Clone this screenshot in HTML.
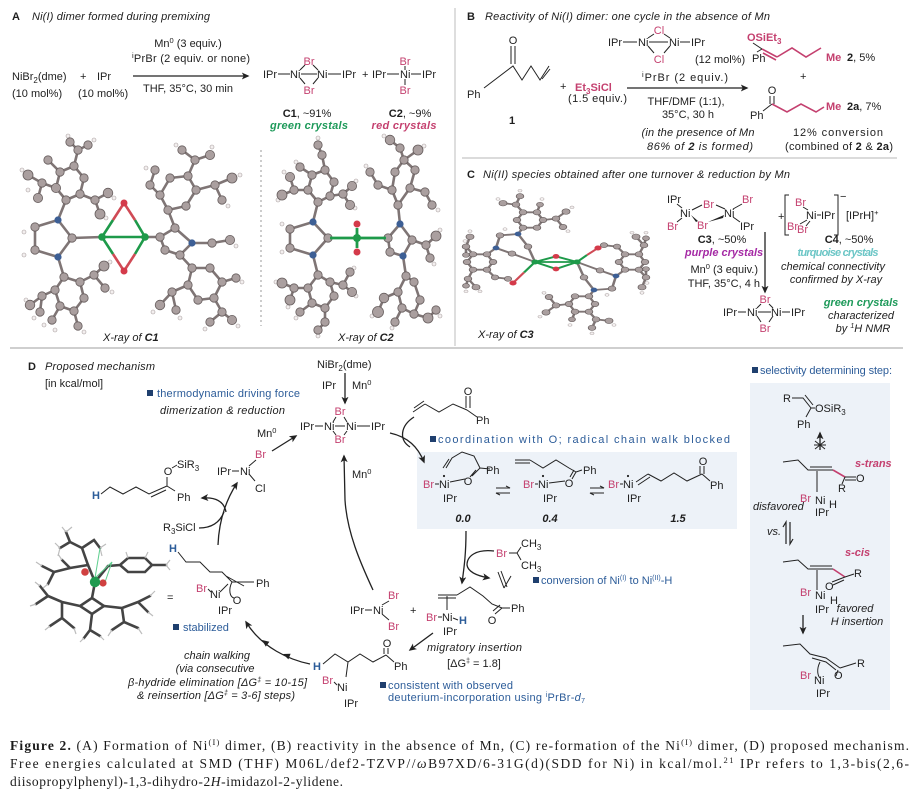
<!DOCTYPE html>
<html><head><meta charset="utf-8">
<style>
html,body{margin:0;padding:0;background:#fff;}
svg{display:block}
text{font-family:"Liberation Sans",sans-serif;font-size:11px;fill:#1e1e1e}
.i{font-style:italic}
.b{font-weight:bold}
.pk{fill:#c4406f}
.bl{fill:#2c5c99}
.gr{fill:#1e9a5a}
.cap{font-family:"Liberation Serif",serif;font-size:13.5px;fill:#1a1a1a}
.bd{stroke:#222;stroke-width:1;fill:none}
.pb{stroke:#c4406f;stroke-width:1.6;fill:none}
.ar{stroke:#222;stroke-width:1.3;fill:none}
.ob{stroke:#7f7575;stroke-width:2.6;fill:none;stroke-linecap:round;stroke-linejoin:round}
.oa circle{fill:#aa9f9f;stroke:#665d5d;stroke-width:.8}
.oh circle{fill:#f3efef;stroke:#a9a0a0;stroke-width:.6}
.sb{stroke:#444;stroke-width:2.6;fill:none;stroke-linecap:round}
</style></head><body>
<svg width="922" height="800" viewBox="0 0 922 800" xmlns="http://www.w3.org/2000/svg">
<defs>
<marker id="ah" viewBox="0 0 10 10" refX="8" refY="5" markerWidth="6" markerHeight="6" orient="auto"><path d="M0,0.5 L10,5 L0,9.5 L2.5,5 z" fill="#222"/></marker>
</defs>
<rect width="922" height="800" fill="#fff"/>

<!-- separators -->
<line x1="455" y1="8" x2="455" y2="346" stroke="#d4d4d4" stroke-width="1.5"/>
<line x1="10" y1="348" x2="903" y2="348" stroke="#cfcfcf" stroke-width="2"/>
<line x1="462" y1="158" x2="897" y2="158" stroke="#cfcfcf" stroke-width="1.5"/>
<line x1="261" y1="150" x2="261" y2="326" stroke="#9a9a9a" stroke-width="1" stroke-dasharray="2,3"/>

<!-- ================= PANEL A ================= -->
<text x="12" y="20" class="b" font-size="12">A</text>
<text x="32" y="20" class="i" textLength="178">Ni(I) dimer formed during premixing</text>
<text x="188" y="47" text-anchor="middle">Mn<tspan dy="-4" font-size="7.5">0</tspan><tspan dy="4"> (3 equiv.)</tspan></text>
<text x="132" y="62" textLength="118"><tspan dy="-4" font-size="7.5">i</tspan><tspan dy="4">PrBr (2 equiv. or none)</tspan></text>
<line x1="133" y1="76" x2="248" y2="76" class="ar" marker-end="url(#ah)"/>
<text x="143" y="92" textLength="90">THF, 35°C, 30 min</text>
<text x="12" y="80">NiBr<tspan font-size="8" dy="3">2</tspan><tspan dy="-3">(dme)</tspan></text>
<text x="80" y="80">+</text>
<text x="97" y="80">IPr</text>
<text x="12" y="97">(10 mol%)</text>
<text x="78" y="97">(10 mol%)</text>
<!-- C1 -->
<text x="263" y="78">IPr</text>
<line x1="278" y1="74" x2="290" y2="74" class="bd"/>
<text x="290" y="78">Ni</text>
<line x1="301" y1="74" x2="317" y2="74" class="bd"/>
<text x="317" y="78">Ni</text>
<line x1="328" y1="74" x2="341" y2="74" class="bd"/>
<text x="342" y="78">IPr</text>
<text x="309" y="65" text-anchor="middle" class="pk">Br</text>
<text x="309" y="94" text-anchor="middle" class="pk">Br</text>
<path d="M300,70 L305,65 M313,65 L318,70 M300,78 L305,84 M313,84 L318,78" class="bd"/>
<text x="362" y="78">+</text>
<!-- C2 -->
<text x="372" y="78">IPr</text>
<line x1="387" y1="74" x2="399" y2="74" class="bd"/>
<text x="400" y="78">Ni</text>
<line x1="411" y1="74" x2="421" y2="74" class="bd"/>
<text x="422" y="78">IPr</text>
<text x="405" y="65" text-anchor="middle" class="pk">Br</text>
<text x="405" y="94" text-anchor="middle" class="pk">Br</text>
<path d="M405,66 L405,70 M405,79 L405,85" class="bd"/>
<text x="307" y="117" text-anchor="middle"><tspan class="b">C1</tspan>, ~91%</text>
<text x="309" y="129" text-anchor="middle" class="b i gr" textLength="78">green crystals</text>
<text x="410" y="117" text-anchor="middle"><tspan class="b">C2</tspan>, ~9%</text>
<text x="404" y="129" text-anchor="middle" class="b i pk" textLength="65">red crystals</text>

<!-- C1 crystal -->
<g class="ob">
<path d="M72,238 L58,220 L35,227 L35,250 L58,257 Z M72,238 L102,237"/>
<path d="M58,220 L66,200 L56,188 L60,172 L74,166 L84,178 L80,194 L66,200 M56,188 L42,183 L28,175 M42,183 L38,198 M80,194 L95,200 L108,193 M95,200 L100,214 M74,166 L78,150 L70,142 M78,150 L88,145 M60,172 L48,160"/>
<path d="M58,257 L64,277 L55,290 L60,306 L74,311 L84,298 L80,282 L64,277 M55,290 L42,296 L30,305 M42,296 L40,312 M80,282 L94,275 L104,266 M94,275 L105,288 M74,311 L78,326 M60,306 L52,320"/>
<path d="M145,237 L160,237 L175,228 L192,243 L180,255 L165,250 L160,237 M175,228 L168,210 L160,195 L170,178 L188,176 L196,190 L186,206 L168,210 M160,195 L150,185 L155,170 M188,176 L195,160 L210,155 M195,160 L182,150 M196,190 L215,185 L232,178 M215,185 L222,200 M192,243 L212,243 L230,240 M180,255 L192,268 L188,285 L198,300 L214,298 L222,282 L210,268 L192,268 M188,285 L172,292 L160,305 M172,292 L176,310 M214,298 L222,312 L232,320 M222,312 L210,322 M222,282 L236,278"/>
</g>
<g class="oh">
<circle cx="22" cy="170" r="2"/><circle cx="28" cy="190" r="2"/><circle cx="24" cy="232" r="2"/><circle cx="24" cy="255" r="2"/><circle cx="26" cy="300" r="2"/><circle cx="44" cy="325" r="2"/><circle cx="68" cy="136" r="2"/><circle cx="94" cy="140" r="2"/><circle cx="114" cy="198" r="2"/><circle cx="110" cy="262" r="2"/><circle cx="146" cy="168" r="2"/><circle cx="212" cy="147" r="2"/><circle cx="240" cy="175" r="2"/><circle cx="228" cy="206" r="2"/><circle cx="236" cy="246" r="2"/><circle cx="242" cy="282" r="2"/><circle cx="238" cy="326" r="2"/><circle cx="205" cy="329" r="2"/><circle cx="180" cy="318" r="2"/><circle cx="153" cy="312" r="2"/><circle cx="55" cy="330" r="2"/><circle cx="84" cy="332" r="2"/><circle cx="34" cy="318" r="2"/><circle cx="112" cy="292" r="2"/><circle cx="176" cy="145" r="2"/><circle cx="106" cy="218" r="2"/>
</g>
<g class="oa">
<circle cx="35" cy="227" r="4.2"/><circle cx="35" cy="250" r="4.2"/><circle cx="72" cy="238" r="4.2"/><circle cx="66" cy="200" r="4.2"/><circle cx="56" cy="188" r="4.6"/><circle cx="60" cy="172" r="4.2"/><circle cx="74" cy="166" r="4.2"/><circle cx="84" cy="178" r="4.2"/><circle cx="80" cy="194" r="4.2"/><circle cx="42" cy="183" r="4.2"/><circle cx="28" cy="175" r="5"/><circle cx="38" cy="198" r="4.6"/><circle cx="95" cy="200" r="4.2"/><circle cx="108" cy="193" r="4.8"/><circle cx="100" cy="214" r="5"/><circle cx="78" cy="150" r="4.2"/><circle cx="70" cy="142" r="4.2"/><circle cx="88" cy="145" r="4.2"/><circle cx="48" cy="160" r="4.2"/>
<circle cx="64" cy="277" r="4.2"/><circle cx="55" cy="290" r="4.2"/><circle cx="60" cy="306" r="4.2"/><circle cx="74" cy="311" r="4.2"/><circle cx="84" cy="298" r="4.2"/><circle cx="80" cy="282" r="4.2"/><circle cx="42" cy="296" r="4.2"/><circle cx="30" cy="305" r="4.8"/><circle cx="40" cy="312" r="4.2"/><circle cx="94" cy="275" r="4.2"/><circle cx="104" cy="266" r="5"/><circle cx="105" cy="288" r="4.2"/><circle cx="78" cy="326" r="4.2"/><circle cx="52" cy="320" r="4.2"/>
<circle cx="160" cy="237" r="4.2"/><circle cx="175" cy="228" r="4.2"/><circle cx="180" cy="255" r="4.2"/><circle cx="165" cy="250" r="4.2"/><circle cx="168" cy="210" r="4.2"/><circle cx="160" cy="195" r="4.2"/><circle cx="170" cy="178" r="4.2"/><circle cx="188" cy="176" r="4.2"/><circle cx="196" cy="190" r="4.2"/><circle cx="186" cy="206" r="4.2"/><circle cx="150" cy="185" r="4.2"/><circle cx="155" cy="170" r="4.2"/><circle cx="195" cy="160" r="4.2"/><circle cx="210" cy="155" r="4.6"/><circle cx="182" cy="150" r="4.2"/><circle cx="215" cy="185" r="4.2"/><circle cx="232" cy="178" r="5"/><circle cx="222" cy="200" r="4.2"/><circle cx="212" cy="243" r="4.2"/><circle cx="230" cy="240" r="4.6"/><circle cx="192" cy="268" r="4.2"/><circle cx="188" cy="285" r="4.2"/><circle cx="198" cy="300" r="4.2"/><circle cx="214" cy="298" r="4.2"/><circle cx="222" cy="282" r="4.2"/><circle cx="210" cy="268" r="4.2"/><circle cx="172" cy="292" r="4.2"/><circle cx="160" cy="305" r="4.8"/><circle cx="176" cy="310" r="4.2"/><circle cx="222" cy="312" r="4.2"/><circle cx="232" cy="320" r="4.6"/><circle cx="210" cy="322" r="4.2"/><circle cx="236" cy="278" r="4.2"/>
</g>
<circle cx="58" cy="220" r="3.6" fill="#3d5f95"/><circle cx="58" cy="257" r="3.6" fill="#3d5f95"/><circle cx="192" cy="243" r="3.6" fill="#3d5f95"/>
<g stroke-width="2.6" fill="none">
<path d="M102,237 L145,237" stroke="#1e9a4a"/>
<path d="M102,237 L113,220 M102,237 L113,254 M145,237 L135,220 M145,237 L135,254" stroke="#1e9a4a"/>
<path d="M113,220 L124,203 L135,220 M113,254 L124,271 L135,254" stroke="#d04a55"/>
</g>
<circle cx="102" cy="237" r="3.8" fill="#1e9a4a"/><circle cx="145" cy="237" r="3.8" fill="#1e9a4a"/>
<circle cx="124" cy="203" r="3.5" fill="#d43a4a"/><circle cx="124" cy="271" r="3.5" fill="#d43a4a"/>
<text x="103" y="341" class="i">X-ray of <tspan class="b">C1</tspan></text>

<!-- C2 crystal -->
<g class="ob">
<path d="M328,238 L313,222 L290,229 L290,248 L313,255 Z"/>
<path d="M313,222 L318,202 L308,190 L312,175 L325,170 L334,182 L330,196 L318,202 M308,190 L294,190 L282,195 M294,190 L290,177 M330,196 L343,194 L352,186 M343,194 L350,205 M325,170 L322,155 L318,145 M312,175 L300,167"/>
<path d="M313,255 L318,275 L308,288 L312,303 L325,308 L334,296 L330,282 L318,275 M308,288 L294,288 L282,283 M294,288 L290,300 M330,282 L343,285 L352,292 M343,285 L350,272 M325,308 L325,322 L318,330 M312,303 L300,312"/>
<path d="M388,238 L400,224 L412,240 L403,256 L390,252 L388,238 M400,224 L398,205 L392,190 L395,172 L404,160 L415,170 L410,188 L398,205 M404,160 L400,148 L390,140 M404,160 L418,150 M392,190 L378,185 L370,172 M410,188 L425,192 L432,205 M412,240 L426,245 L436,236 M426,245 L430,258 M403,256 L406,276 L398,292 L402,308 L414,314 L420,300 L414,282 L406,276 M398,292 L384,298 L378,312 M402,308 L395,322 M414,314 L428,318 L436,310"/>
</g>
<g class="oh">
<circle cx="278" cy="200" r="2"/><circle cx="284" cy="172" r="2"/><circle cx="318" cy="138" r="2"/><circle cx="296" cy="162" r="2"/><circle cx="356" cy="181" r="2"/><circle cx="355" cy="208" r="2"/><circle cx="282" cy="224" r="2"/><circle cx="282" cy="252" r="2"/><circle cx="276" cy="282" r="2"/><circle cx="288" cy="307" r="2"/><circle cx="296" cy="318" r="2"/><circle cx="318" cy="336" r="2"/><circle cx="356" cy="296" r="2"/><circle cx="354" cy="268" r="2"/><circle cx="384" cy="136" r="2"/><circle cx="424" cy="146" r="2"/><circle cx="366" cy="166" r="2"/><circle cx="438" cy="210" r="2"/><circle cx="440" cy="230" r="2"/><circle cx="434" cy="264" r="2"/><circle cx="372" cy="316" r="2"/><circle cx="392" cy="328" r="2"/><circle cx="440" cy="316" r="2"/>
</g>
<g class="oa">
<circle cx="290" cy="229" r="4.2"/><circle cx="290" cy="248" r="4.2"/><circle cx="328" cy="238" r="4.2"/><circle cx="318" cy="202" r="4.2"/><circle cx="308" cy="190" r="4.2"/><circle cx="312" cy="175" r="4.2"/><circle cx="325" cy="170" r="4.2"/><circle cx="334" cy="182" r="4.2"/><circle cx="330" cy="196" r="4.2"/><circle cx="294" cy="190" r="4.2"/><circle cx="282" cy="195" r="5"/><circle cx="290" cy="177" r="4.6"/><circle cx="343" cy="194" r="4.2"/><circle cx="352" cy="186" r="4.6"/><circle cx="350" cy="205" r="4.6"/><circle cx="322" cy="155" r="4.2"/><circle cx="318" cy="145" r="4.2"/><circle cx="300" cy="167" r="4.2"/>
<circle cx="318" cy="275" r="4.2"/><circle cx="308" cy="288" r="4.2"/><circle cx="312" cy="303" r="4.2"/><circle cx="325" cy="308" r="4.2"/><circle cx="334" cy="296" r="4.2"/><circle cx="330" cy="282" r="4.2"/><circle cx="294" cy="288" r="4.2"/><circle cx="282" cy="283" r="5"/><circle cx="290" cy="300" r="5"/><circle cx="343" cy="285" r="4.2"/><circle cx="352" cy="292" r="4.6"/><circle cx="350" cy="272" r="4.2"/><circle cx="325" cy="322" r="4.2"/><circle cx="318" cy="330" r="4.2"/><circle cx="300" cy="312" r="4.2"/>
<circle cx="388" cy="238" r="4.2"/><circle cx="412" cy="240" r="4.2"/><circle cx="390" cy="252" r="4.2"/><circle cx="398" cy="205" r="4.2"/><circle cx="392" cy="190" r="4.2"/><circle cx="395" cy="172" r="4.2"/><circle cx="404" cy="160" r="4.2"/><circle cx="415" cy="170" r="4.2"/><circle cx="410" cy="188" r="4.2"/><circle cx="400" cy="148" r="4.2"/><circle cx="390" cy="140" r="4.8"/><circle cx="418" cy="150" r="5"/><circle cx="378" cy="185" r="4.2"/><circle cx="370" cy="172" r="4.2"/><circle cx="425" cy="192" r="4.2"/><circle cx="432" cy="205" r="4.2"/><circle cx="426" cy="245" r="4.2"/><circle cx="436" cy="236" r="5"/><circle cx="430" cy="258" r="4.2"/><circle cx="406" cy="276" r="4.2"/><circle cx="398" cy="292" r="4.2"/><circle cx="402" cy="308" r="4.2"/><circle cx="414" cy="314" r="4.2"/><circle cx="420" cy="300" r="4.2"/><circle cx="414" cy="282" r="4.2"/><circle cx="384" cy="298" r="4.8"/><circle cx="378" cy="312" r="5.5"/><circle cx="395" cy="322" r="4.2"/><circle cx="428" cy="318" r="5"/><circle cx="436" cy="310" r="4.2"/>
</g>
<circle cx="313" cy="222" r="3.6" fill="#3d5f95"/><circle cx="313" cy="255" r="3.6" fill="#3d5f95"/><circle cx="400" cy="224" r="3.6" fill="#3d5f95"/><circle cx="403" cy="256" r="3.6" fill="#3d5f95"/>
<path d="M330,238 L386,238 M357,238 L357,228 M357,238 L357,248" stroke="#1e9a4a" stroke-width="2.8"/>
<circle cx="357" cy="238" r="4" fill="#1e9a4a"/>
<circle cx="357" cy="224" r="3.5" fill="#d43a4a"/><circle cx="357" cy="252" r="3.5" fill="#d43a4a"/>
<text x="338" y="341" class="i">X-ray of <tspan class="b">C2</tspan></text>

<!-- ================= PANEL B ================= -->
<text x="467" y="20" class="b" font-size="12">B</text>
<text x="485" y="20" class="i" textLength="285">Reactivity of Ni(I) dimer: one cycle in the absence of Mn</text>
<!-- Cl dimer -->
<text x="608" y="46">IPr</text>
<line x1="623" y1="42" x2="637" y2="42" class="bd"/>
<text x="638" y="46">Ni</text>
<line x1="649" y1="42" x2="668" y2="42" class="bd"/>
<text x="669" y="46">Ni</text>
<line x1="680" y1="42" x2="690" y2="42" class="bd"/>
<text x="691" y="46">IPr</text>
<text x="659" y="34" text-anchor="middle" class="pk">Cl</text>
<text x="659" y="63" text-anchor="middle" class="pk">Cl</text>
<path d="M648,38 L654,34 M664,34 L670,38 M648,46 L654,53 M664,53 L670,46" class="bd"/>
<text x="695" y="63">(12 mol%)</text>
<text x="642" y="81" textLength="86"><tspan dy="-4" font-size="7.5">i</tspan><tspan dy="4">PrBr (2 equiv.)</tspan></text>
<line x1="627" y1="88" x2="747" y2="88" class="ar" marker-end="url(#ah)"/>
<text x="686" y="105" text-anchor="middle">THF/DMF (1:1),</text>
<text x="688" y="118" text-anchor="middle">35°C, 30 h</text>
<text x="698" y="136" text-anchor="middle" class="i" textLength="113">(in the presence of Mn</text>
<text x="700" y="150" text-anchor="middle" class="i" textLength="106">86% of <tspan class="b">2</tspan> is formed)</text>
<!-- ketone 1 -->
<text x="467" y="98">Ph</text>
<path d="M484,88 L513,66 L522,80 L531,66 L540,80 L549,66 M542,79 L550,69 M511,64 L511,46 M515,64 L515,46" class="bd"/>
<text x="513" y="44" text-anchor="middle">O</text>
<text x="512" y="124" text-anchor="middle" class="b">1</text>
<text x="560" y="90">+</text>
<text x="575" y="91" class="pk b">Et<tspan font-size="8" dy="3">3</tspan><tspan dy="-3">SiCl</tspan></text>
<text x="568" y="102" textLength="59">(1.5 equiv.)</text>
<!-- product 2 -->
<text x="747" y="41" class="pk b">OSiEt<tspan font-size="8" dy="3">3</tspan></text>
<path d="M753,43 L762,49" class="bd"/>
<path d="M762,49 L757,52" class="bd"/>
<text x="752" y="62">Ph</text>
<path d="M762,49 L777,57 M763,53 L776,60 M777,57 L792,48 L806,57 L821,48" class="pb"/>
<text x="826" y="61" class="pk b">Me</text>
<text x="847" y="61"><tspan class="b">2</tspan>, 5%</text>
<text x="800" y="80">+</text>
<!-- product 2a -->
<text x="772" y="94" text-anchor="middle">O</text>
<path d="M770,96 L770,104 M774,96 L774,104 M772,104 L763,111" class="bd"/>
<text x="750" y="119">Ph</text>
<path d="M772,104 L787,112 L801,104 L816,112 L824,107" class="pb"/>
<text x="826" y="110" class="pk b">Me</text>
<text x="847" y="110"><tspan class="b">2a</tspan>, 7%</text>
<text x="838" y="136" text-anchor="middle" textLength="90">12% conversion</text>
<text x="839" y="150" text-anchor="middle" textLength="108">(combined of <tspan class="b">2</tspan> &amp; <tspan class="b">2a</tspan>)</text>

<!-- ================= PANEL C ================= -->
<text x="467" y="178" class="b" font-size="12">C</text>
<text x="483" y="178" class="i" textLength="307">Ni(II) species obtained after one turnover &amp; reduction by Mn</text>
<!-- C3 crystal -->
<g transform="matrix(1,0,0,0.7,0,78.6)">
<g id="c3l">
<g class="ob">
<path d="M535,262 L528,240 L518,222 L500,224 L496,242 L512,250 Z"/>
<path d="M518,222 L523,213 L517,202 L523,191 L537,191 L543,202 L537,213 L523,213 M523,191 L516,180 L503,178 M516,180 L520,168 M543,202 L556,200 L566,190 M556,200 L563,212 M537,191 L540,180"/>
<path d="M496,242 L487,251 L473,251 L467,262 L473,273 L487,273 L493,262 L487,251 M473,251 L466,240 L470,226 M466,240 L466,252 M473,273 L468,286 L476,298 M468,286 L466,296 M487,273 L495,284 L508,286"/>
</g>
<g class="oh"><circle cx="498" cy="172" r="2"/><circle cx="520" cy="160" r="2"/><circle cx="572" cy="184" r="2"/><circle cx="568" cy="218" r="2"/><circle cx="470" cy="218" r="2"/><circle cx="465" cy="232" r="2"/><circle cx="480" cy="304" r="2"/><circle cx="466" cy="304" r="2"/><circle cx="542" cy="172" r="2"/><circle cx="505" cy="215" r="2"/></g>
<g class="oa"><circle cx="528" cy="240" r="3.8"/><circle cx="500" cy="224" r="3.8"/><circle cx="512" cy="250" r="3.8"/><circle cx="523" cy="213" r="3.8"/><circle cx="517" cy="202" r="3.8"/><circle cx="523" cy="191" r="3.8"/><circle cx="537" cy="191" r="3.8"/><circle cx="543" cy="202" r="3.8"/><circle cx="537" cy="213" r="3.8"/><circle cx="516" cy="180" r="3.8"/><circle cx="503" cy="178" r="4"/><circle cx="520" cy="168" r="3.8"/><circle cx="556" cy="200" r="3.8"/><circle cx="566" cy="190" r="4"/><circle cx="563" cy="212" r="3.8"/><circle cx="540" cy="180" r="3.4"/><circle cx="487" cy="251" r="3.8"/><circle cx="473" cy="251" r="3.8"/><circle cx="467" cy="262" r="3.8"/><circle cx="473" cy="273" r="3.8"/><circle cx="487" cy="273" r="3.8"/><circle cx="493" cy="262" r="3.8"/><circle cx="466" cy="240" r="3.8"/><circle cx="470" cy="226" r="4"/><circle cx="466" cy="252" r="3.4"/><circle cx="468" cy="286" r="3.8"/><circle cx="476" cy="298" r="4"/><circle cx="466" cy="296" r="3.4"/><circle cx="495" cy="284" r="3.6"/><circle cx="508" cy="286" r="3.6"/></g>
<circle cx="518" cy="222" r="3.4" fill="#3d5f95"/><circle cx="496" cy="242" r="3.4" fill="#3d5f95"/>
</g>
<use href="#c3l" transform="rotate(180 556 262)"/>
<g stroke-width="2.6" fill="none">
<path d="M535,262 L577,262 M535,262 L556,254 L577,262 M535,262 L556,272 L577,262" stroke="#1e9a4a"/>
<path d="M535,262 L524,277 M577,262 L587,252" stroke="#1e9a4a"/>
<path d="M524,277 L513,292 M587,252 L598,242" stroke="#d04a55"/>
</g>
<circle cx="535" cy="262" r="3.6" fill="#1e9a4a"/><circle cx="577" cy="262" r="3.6" fill="#1e9a4a"/>
<circle cx="556" cy="254" r="3.4" fill="#d43a4a"/><circle cx="556" cy="272" r="3.4" fill="#d43a4a"/>
<circle cx="513" cy="292" r="3.6" fill="#d43a4a"/><circle cx="598" cy="242" r="3.6" fill="#d43a4a"/>
</g>
<text x="478" y="338" class="i">X-ray of <tspan class="b">C3</tspan></text>
<!-- C3 structure -->
<text x="667" y="203">IPr</text>
<text x="680" y="217">Ni</text>
<text x="703" y="208" class="pk">Br</text>
<text x="697" y="229" class="pk">Br</text>
<text x="724" y="217">Ni</text>
<text x="742" y="203" class="pk">Br</text>
<text x="740" y="230">IPr</text>
<text x="667" y="230" class="pk">Br</text>
<path d="M677,204 L682,208 M682,218 L677,222 M692,210 L702,205 M716,205 L725,209 M733,209 L742,204 M733,217 L740,222" class="bd"/>
<path d="M691,215 L698,221 L696,222 Z M708,222 L724,215 L723,218 Z" fill="#222"/>
<text x="722" y="243" text-anchor="middle"><tspan class="b">C3</tspan>, ~50%</text>
<text x="724" y="256" text-anchor="middle" class="b i" style="fill:#a52aa5">purple crystals</text>
<text x="758" y="273" text-anchor="end">Mn<tspan dy="-4" font-size="7.5">0</tspan><tspan dy="4"> (3 equiv.)</tspan></text>
<text x="760" y="287" text-anchor="end">THF, 35°C, 4 h</text>
<line x1="765" y1="232" x2="765" y2="292" class="ar" marker-end="url(#ah)"/>
<text x="778" y="220">+</text>
<!-- C4 -->
<path d="M789,195 L785,195 L785,235 L789,235 M834,195 L838,195 L838,235 L834,235" stroke="#222" stroke-width="1" fill="none"/>
<text x="840" y="200" font-size="9">−</text>
<text x="795" y="206" class="pk">Br</text>
<text x="806" y="219">Ni</text>
<line x1="817" y1="215" x2="821" y2="215" class="bd"/>
<text x="821" y="219">IPr</text>
<text x="787" y="230" class="pk">Br</text>
<text x="797" y="233" class="pk">Br</text>
<path d="M803,207 L808,210 M807,220 L800,224 M810,221 L806,226" class="bd"/>
<text x="846" y="219">[IPrH]<tspan dy="-4" font-size="7.5">+</tspan></text>
<text x="849" y="243" text-anchor="middle"><tspan class="b">C4</tspan>, ~50%</text>
<text x="838" y="256" text-anchor="middle" class="b i" style="fill:#6cc6c6" textLength="81">turquoise crystals</text>
<text x="833" y="270" text-anchor="middle" class="i" font-size="10.5">chemical connectivity</text>
<text x="836" y="283" text-anchor="middle" class="i" font-size="10.5">confirmed by X-ray</text>
<!-- dimer -->
<text x="723" y="316">IPr</text>
<line x1="738" y1="312" x2="746" y2="312" class="bd"/>
<text x="747" y="316">Ni</text>
<line x1="758" y1="312" x2="771" y2="312" class="bd"/>
<text x="771" y="316">Ni</text>
<line x1="782" y1="312" x2="790" y2="312" class="bd"/>
<text x="791" y="316">IPr</text>
<text x="765" y="303" text-anchor="middle" class="pk">Br</text>
<text x="765" y="332" text-anchor="middle" class="pk">Br</text>
<path d="M757,308 L761,304 M769,304 L773,308 M757,316 L761,322 M769,322 L773,316" class="bd"/>
<text x="861" y="306" text-anchor="middle" class="b i gr">green crystals</text>
<text x="861" y="319" text-anchor="middle" class="i" font-size="10.5">characterized</text>
<text x="863" y="332" text-anchor="middle" class="i" font-size="10.5">by <tspan dy="-4" font-size="7">1</tspan><tspan dy="4">H NMR</tspan></text>

<!-- ================= PANEL D ================= -->
<rect x="417" y="452" width="320" height="77" fill="#edf2f8"/>
<rect x="750" y="383" width="140" height="327" fill="#edf2f8"/>
<text x="28" y="370" class="b" font-size="12">D</text>
<text x="45" y="370" class="i" textLength="110">Proposed mechanism</text>
<text x="45" y="387" font-size="9.5">[in kcal/mol]</text>
<rect x="147" y="390" width="6" height="6" fill="#1f3f6e"/>
<text x="157" y="397" class="bl" font-size="11.5" textLength="143">thermodynamic driving force</text>
<text x="160" y="414" class="i" font-size="11.5" textLength="125">dimerization &amp; reduction</text>
<text x="317" y="368">NiBr<tspan font-size="8" dy="3">2</tspan><tspan dy="-3">(dme)</tspan></text>
<text x="322" y="389">IPr</text>
<text x="352" y="389">Mn<tspan dy="-4" font-size="7.5">0</tspan></text>
<line x1="345" y1="373" x2="345" y2="403" class="ar" marker-end="url(#ah)"/>
<!-- central dimer -->
<text x="300" y="430">IPr</text>
<line x1="315" y1="426" x2="323" y2="426" class="bd"/>
<text x="324" y="430">Ni</text>
<line x1="335" y1="426" x2="345" y2="426" class="bd"/>
<text x="346" y="430">Ni</text>
<line x1="357" y1="426" x2="370" y2="426" class="bd"/>
<text x="371" y="430">IPr</text>
<text x="340" y="415" text-anchor="middle" class="pk">Br</text>
<text x="340" y="443" text-anchor="middle" class="pk">Br</text>
<path d="M333,422 L336,417 M344,417 L347,422 M333,431 L336,435 M344,435 L347,431" class="bd"/>
<!-- Mn arrow to dimer -->
<text x="257" y="437">Mn<tspan dy="-4" font-size="7.5">0</tspan></text>
<line x1="272" y1="451" x2="296" y2="436" class="ar" marker-end="url(#ah)"/>
<!-- IPr-Ni(Br)Cl -->
<text x="217" y="475">IPr</text>
<line x1="232" y1="471" x2="239" y2="471" class="bd"/>
<text x="240" y="475">Ni</text>
<text x="255" y="458" class="pk">Br</text>
<text x="255" y="492">Cl</text>
<path d="M249,466 L256,460 M249,474 L255,481" class="bd"/>
<!-- silyl enol ether -->
<text x="92" y="499" class="bl b">H</text>
<path d="M101,494 L110,487 L123,494 L136,487 L149,494 L167,486 M151,497 L166,490 M167,486 L167,477 M172,468 L177,465 M167,486 L175,491" class="bd"/>
<text x="168" y="475" text-anchor="middle">O</text>
<text x="177" y="468">SiR<tspan font-size="8" dy="3">3</tspan></text>
<text x="177" y="501">Ph</text>
<text x="163" y="531">R<tspan font-size="8" dy="3">3</tspan><tspan dy="-3">SiCl</tspan></text>
<path d="M218,545 C219,520 226,500 237,483" class="ar" marker-end="url(#ah)"/>
<path d="M226,512 C224,501 215,497 202,498" class="ar" marker-end="url(#ah)"/>
<path d="M199,528 C212,528 220,522 224,512" class="ar"/>
<!-- big return arrow from IPrNiBr2 -->
<path d="M373,590 C360,562 347,532 345,500 L344,456" class="ar" marker-end="url(#ah)"/>
<text x="352" y="478">Mn<tspan dy="-4" font-size="7.5">0</tspan></text>
<!-- dimer to coordination -->
<path d="M390,433 C408,437 418,447 424,462" class="ar" marker-end="url(#ah)"/>
<path d="M414,417 C400,426 399,440 410,447" class="ar"/>
<!-- substrate -->
<path d="M413,412 L425,404 M414,408 L424,401 M425,404 L439,412 L453,404 L467,410 M466,408 L466,396 M470,408 L470,396 M467,410 L477,417" class="bd"/>
<text x="468" y="395" text-anchor="middle">O</text>
<text x="476" y="424">Ph</text>
<!-- coordination box -->
<rect x="430" y="436" width="6" height="6" fill="#1f3f6e"/>
<text x="438" y="443" class="bl" font-size="12" textLength="292">coordination with O; radical chain walk blocked</text>
<!-- complex 0.0 -->
<text x="423" y="488" class="pk">Br</text>
<line x1="435" y1="484" x2="439" y2="484" class="bd"/>
<text x="439" y="488">Ni</text>
<circle cx="444" cy="476" r="1.1" fill="#222"/>
<text x="443" y="502">IPr</text>
<path d="M450,482 L465,479 M472,476 L480,468 M476,470 L470,477 M480,468 L490,469 M480,468 L474,456 L462,452 L452,458 L446,468 M449,459 L443,468" class="bd"/>
<text x="468" y="485" text-anchor="middle">O</text>
<text x="486" y="474">Ph</text>
<text x="463" y="522" text-anchor="middle" class="b i" font-size="10">0.0</text>
<path d="M496,488 L510,488 L506,486 M510,493 L496,493 L500,495" stroke="#222" stroke-width="1" fill="none"/>
<!-- complex 0.4 -->
<path d="M515,460 L530,460 M515,463 L530,463 M530,460 L543,468 L556,460 L569,468 L576,472 M576,472 L582,470 M576,472 L572,479 M574,470 L570,477" class="bd"/>
<text x="523" y="488" class="pk">Br</text>
<line x1="535" y1="484" x2="538" y2="484" class="bd"/>
<text x="538" y="488">Ni</text>
<circle cx="543" cy="476" r="1.1" fill="#222"/>
<line x1="549" y1="483" x2="565" y2="481" class="bd"/>
<text x="569" y="487" text-anchor="middle">O</text>
<text x="583" y="474">Ph</text>
<text x="543" y="502">IPr</text>
<text x="550" y="522" text-anchor="middle" class="b i" font-size="10">0.4</text>
<path d="M590,488 L604,488 L600,486 M604,493 L590,493 L594,495" stroke="#222" stroke-width="1" fill="none"/>
<!-- complex 1.5 -->
<text x="608" y="488" class="pk">Br</text>
<line x1="620" y1="484" x2="623" y2="484" class="bd"/>
<text x="623" y="488">Ni</text>
<circle cx="628" cy="476" r="1.1" fill="#222"/>
<text x="627" y="502">IPr</text>
<path d="M636,482 L648,474 M638,485 L650,477 M648,474 L661,481 L674,473 L687,481 L702,474 M700,474 L700,466 M704,474 L704,466 M702,474 L710,481" class="bd"/>
<text x="703" y="465" text-anchor="middle">O</text>
<text x="710" y="489">Ph</text>
<text x="678" y="522" text-anchor="middle" class="b i" font-size="10">1.5</text>
<!-- down from box with iPrBr -->
<path d="M466,531 C466,555 464,568 462,583" class="ar" marker-end="url(#ah)"/>
<path d="M494,551 C476,549 467,556 467,565 C468,572 478,576 489,578" class="ar" marker-end="url(#ah)"/>
<text x="496" y="557" class="pk">Br</text>
<path d="M509,553 L517,553 L521,547 M517,553 L521,560" class="bd"/>
<text x="521" y="547">CH<tspan font-size="8" dy="3">3</tspan></text>
<text x="521" y="569">CH<tspan font-size="8" dy="3">3</tspan></text>
<path d="M498,572 L504,588 M501,571 L507,587 M504,588 L511,576" class="bd"/>
<rect x="533" y="577" width="6" height="6" fill="#1f3f6e"/>
<text x="541" y="584" class="bl" font-size="11.5">conversion of Ni<tspan dy="-4" font-size="7">(I)</tspan><tspan dy="4"> to Ni</tspan><tspan dy="-4" font-size="7">(II)</tspan><tspan dy="4">-H</tspan></text>
<!-- IPrNiBr2 -->
<text x="350" y="614">IPr</text>
<line x1="365" y1="610" x2="372" y2="610" class="bd"/>
<text x="373" y="614">Ni</text>
<text x="388" y="599" class="pk">Br</text>
<text x="388" y="630" class="pk">Br</text>
<path d="M382,605 L389,601 M382,614 L389,620" class="bd"/>
<text x="410" y="614">+</text>
<!-- Ni-H complex -->
<text x="426" y="621" class="pk">Br</text>
<line x1="438" y1="617" x2="442" y2="617" class="bd"/>
<text x="442" y="621">Ni</text>
<line x1="453" y1="618" x2="458" y2="620" class="bd"/>
<text x="459" y="624" class="bl b">H</text>
<text x="443" y="635">IPr</text>
<path d="M447,610 L447,596 M438,595 L457,595 M438,598 L456,598 M457,595 L470,587 L483,596 L492,604 L502,608 M502,608 L510,608 M502,608 L495,614 M500,605 L493,611" class="bd"/>
<text x="492" y="624" text-anchor="middle">O</text>
<text x="511" y="612">Ph</text>
<line x1="433" y1="633" x2="410" y2="650" class="ar" marker-end="url(#ah)"/>
<text x="427" y="651" class="i" textLength="95">migratory insertion</text>
<text x="474" y="667" text-anchor="middle">[ΔG<tspan dy="-4" font-size="7">‡</tspan><tspan dy="4"> = 1.8]</tspan></text>
<!-- alkyl Ni -->
<text x="313" y="670" class="bl b">H</text>
<path d="M323,664 L335,654 L348,662 L360,654 L373,662 L386,655 M348,662 L346,677 M384,654 L384,648 M388,654 L388,648 M386,655 L394,662" class="bd"/>
<text x="387" y="647" text-anchor="middle">O</text>
<text x="394" y="670">Ph</text>
<text x="322" y="684" class="pk">Br</text>
<line x1="334" y1="682" x2="337" y2="685" class="bd"/>
<text x="337" y="691">Ni</text>
<text x="344" y="707">IPr</text>
<rect x="380" y="682" width="6" height="6" fill="#1f3f6e"/>
<text x="388" y="689" class="bl" font-size="11.5" textLength="125">consistent with observed</text>
<text x="388" y="701" class="bl" font-size="11.5" textLength="197">deuterium-incorporation using <tspan dy="-4" font-size="7">i</tspan><tspan dy="4">PrBr-</tspan><tspan class="i">d</tspan><tspan font-size="7" dy="2">7</tspan></text>
<!-- chain walking -->
<path d="M310,664 C290,660 262,648 246,622" class="ar" marker-end="url(#ah)"/>
<polygon points="283,654 290.6,653.8 288.4,659.4" fill="#222"/>
<polygon points="262,640 269.4,641.8 265.8,646.6" fill="#222"/>
<text x="217" y="659" text-anchor="middle" class="i">chain walking</text>
<text x="215" y="672" text-anchor="middle" class="i">(via consecutive</text>
<text x="128" y="686" class="i" textLength="179">β-hydride elimination [ΔG<tspan dy="-4" font-size="7">‡</tspan><tspan dy="4"> = 10-15]</tspan></text>
<text x="137" y="699" class="i" textLength="158">&amp; reinsertion [ΔG<tspan dy="-4" font-size="7">‡</tspan><tspan dy="4"> = 3-6] steps)</tspan></text>
<!-- stabilized complex -->
<text x="169" y="552" class="bl b">H</text>
<path d="M178,552 L186,562 L200,562 L210,572 L222,572 L232,582 L246,582 M226,576 L244,586 M246,582 L254,582 M232,582 C228,590 230,597 234,598" class="bd"/>
<text x="256" y="587">Ph</text>
<text x="237" y="604" text-anchor="middle">O</text>
<text x="196" y="592" class="pk">Br</text>
<line x1="208" y1="589" x2="211" y2="592" class="bd"/>
<text x="210" y="598">Ni</text>
<line x1="220" y1="592" x2="228" y2="584" class="bd"/>
<text x="218" y="614">IPr</text>
<text x="167" y="601">=</text>
<rect x="173" y="624" width="6" height="6" fill="#1f3f6e"/>
<text x="183" y="631" class="bl" font-size="11.5">stabilized</text>
<!-- 3D stick model -->
<g class="sb">
<path d="M95,582 L88,565 L82,548 L70,542 L60,548 M70,542 L66,532 M82,548 L94,540 L100,548"/>
<path d="M95,582 L108,566 L120,565 L128,558 L145,558 L152,565 L145,572 L128,572 L120,565 M152,565 L166,565"/>
<path d="M95,582 L92,598 L80,606 L92,614 L104,606 L92,598 M80,606 L62,602 L48,596 L40,586 M48,596 L36,604 M62,602 L62,618 L50,626 M62,618 L74,628"/>
<path d="M104,606 L122,608 L138,602 L150,596 M138,602 L148,612 M122,608 L124,622 L112,630 M124,622 L138,628"/>
<path d="M88,565 L70,568 L54,572 L42,566 M54,572 L48,584 M70,568 L62,560"/>
<path d="M92,614 L90,630 L84,638 M90,630 L100,636"/>
</g>
<g stroke="#bdbdbd" stroke-width="1.2" fill="none">
<path d="M60,548 L55,543 M60,548 L58,556 M66,532 L62,527 M66,532 L72,527 M100,548 L106,544 M100,548 L102,556 M166,565 L170,560 M166,565 L170,570 M40,586 L35,582 M36,604 L30,606 M50,626 L45,630 M74,628 L76,634 M150,596 L155,591 M148,612 L153,616 M112,630 L108,636 M138,628 L142,634 M42,566 L36,562 M48,584 L43,588 M62,560 L58,554 M84,638 L80,642 M100,636 L104,640 M145,558 L148,552 M128,558 L126,552"/>
</g>
<path d="M95,578 L112,562 L104,585 Z M95,578 L100,548" stroke="#5fcf8f" stroke-width="1" fill="none"/>
<circle cx="85" cy="572" r="3.8" fill="#d04040"/>
<circle cx="103" cy="583" r="3.6" fill="#d04040"/>
<circle cx="95" cy="582" r="5.2" fill="#1f9a4f"/>
<!-- right selectivity box -->
<rect x="752" y="367" width="6" height="6" fill="#1f3f6e"/>
<text x="760" y="374" class="bl" textLength="132">selectivity determining step:</text>
<text x="783" y="402">R</text>
<path d="M792,398 L803,398 L811,408 M805,395 L813,405 M811,408 L815,408 M811,408 L806,417" class="bd"/>
<text x="815" y="412">OSiR<tspan font-size="8" dy="3">3</tspan></text>
<text x="797" y="428">Ph</text>
<line x1="820" y1="450" x2="820" y2="433" class="ar" marker-end="url(#ah)"/>
<path d="M815,441 L825,449 M825,441 L815,449 M814,445 L826,445" stroke="#222" stroke-width="1"/>
<text x="855" y="467" class="pk b i">s-trans</text>
<path d="M783,462 L798,460 L808,470 L833,470 M810,467 L832,467 M817,471 L817,492" class="bd"/>
<path d="M833,470 L845,477" class="pb" stroke-width="2"/>
<path d="M845,477 L856,477 M845,480 L856,480 M845,477 L842,484" class="bd"/>
<text x="856" y="482">O</text>
<text x="838" y="492">R</text>
<text x="800" y="502" class="pk">Br</text>
<text x="815" y="504">Ni</text>
<text x="829" y="508">H</text>
<text x="815" y="516">IPr</text>
<text x="753" y="510" class="i" font-size="10">disfavored</text>
<text x="767" y="535" class="i" font-size="9">vs.</text>
<path d="M786,544 L786,522 L783,527 M790,522 L790,544 L793,539" stroke="#222" stroke-width="1.2" fill="none"/>
<text x="845" y="556" class="pk b i">s-cis</text>
<path d="M783,562 L798,560 L808,569 L833,569 M810,566 L832,566 M817,570 L817,590" class="bd"/>
<path d="M833,569 L845,577" class="pb" stroke-width="2"/>
<path d="M845,577 L854,574 M845,577 L832,582 M844,580 L833,585" class="bd"/>
<text x="854" y="577">R</text>
<text x="825" y="590">O</text>
<text x="800" y="596" class="pk">Br</text>
<text x="815" y="599">Ni</text>
<text x="830" y="604">H</text>
<text x="815" y="613">IPr</text>
<line x1="803" y1="615" x2="803" y2="633" class="ar" marker-end="url(#ah)"/>
<text x="855" y="612" text-anchor="middle" class="i" font-size="10.5">favored</text>
<text x="857" y="625" text-anchor="middle" class="i" font-size="10.5">H insertion</text>
<path d="M783,646 L800,644 L810,654 L826,658 L840,668 M812,658 L826,662 L836,670 M840,668 L856,663 M820,662 C816,670 818,676 820,678 M838,670 L836,676" class="bd"/>
<text x="857" y="667">R</text>
<text x="834" y="679">O</text>
<text x="800" y="679" class="pk">Br</text>
<text x="814" y="684">Ni</text>
<text x="816" y="697">IPr</text>

<!-- ================= CAPTION ================= -->
<text class="cap" x="10" y="750" textLength="899" lengthAdjust="spacing"><tspan font-weight="bold">Figure 2.</tspan> (A) Formation of Ni<tspan dy="-5" font-size="8.5">(I)</tspan><tspan dy="5"> dimer, (B) reactivity in the absence of Mn, (C) re-formation of the Ni</tspan><tspan dy="-5" font-size="8.5">(I)</tspan><tspan dy="5"> dimer, (D) proposed mechanism.</tspan></text>
<text class="cap" x="10" y="768" textLength="899" lengthAdjust="spacing">Free energies calculated at SMD (THF) M06L/def2-TZVP//<tspan font-style="italic">ω</tspan>B97XD/6-31G(d)(SDD for Ni) in kcal/mol.<tspan dy="-5" font-size="8.5">21</tspan><tspan dy="5"> IPr refers to 1,3-bis(2,6-</tspan></text>
<text class="cap" x="10" y="786" textLength="333" lengthAdjust="spacing">diisopropylphenyl)-1,3-dihydro-2<tspan font-style="italic">H</tspan>-imidazol-2-ylidene.</text>
</svg>
</body></html>
